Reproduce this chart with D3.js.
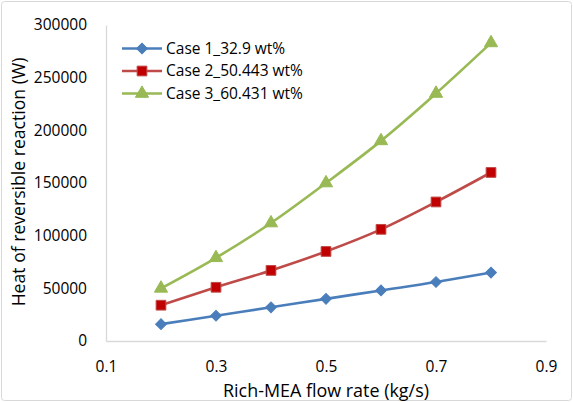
<!DOCTYPE html>
<html>
<head>
<meta charset="UTF-8">
<script src="https://d3js.org/d3.v7.min.js"></script>
<style>
  body { margin: 0; background: #fff; }
  svg text { font-family: 'Open Sans', sans-serif; fill: #000; }
</style>
</head>
<body>
<div id="chart"></div>
<script>
// data
const flowRates = [0.2, 0.3, 0.4, 0.5, 0.6, 0.7, 0.8];
const case1 = [16000, 24000, 32000, 40000, 48000, 56000, 65000];
const case2 = [34000, 51000, 67000, 85000, 106000, 132000, 160000];
const case3 = [50000, 79000, 112000, 150000, 190000, 235000, 283000];
const seriesNames = ['Case 1_32.9 wt%', 'Case 2_50.443 wt%', 'Case 3_60.431 wt%'];
const xTicks = [0.1, 0.3, 0.5, 0.7, 0.9];
const yTicks = [0, 50000, 100000, 150000, 200000, 250000, 300000];

const W = 573, H = 402;
const margin = { left: 106, right: 27, top: 25, bottom: 61 };

const svg = d3.select('#chart').append('svg').attr('width', W).attr('height', H);

// outer frame
svg.append('rect').attr('x', 1.5).attr('y', 1.5).attr('width', W - 3).attr('height', H - 3)
  .attr('rx', 3).attr('fill', '#fff').attr('stroke', '#d9d9d9');

const x = d3.scaleLinear().domain([0.1, 0.9]).range([margin.left, W - margin.right]);
const y = d3.scaleLinear().domain([0, 300000]).range([H - margin.bottom, margin.top]);

// axes
const xAxis = svg.append('g').attr('transform', `translate(0,${y(0)})`)
  .call(d3.axisBottom(x).tickValues(xTicks).tickSize(0).tickPadding(20).tickFormat(d3.format('.1f')));
const yAxis = svg.append('g').attr('transform', `translate(${x(0.1)},0)`)
  .call(d3.axisLeft(y).tickValues(yTicks).tickSize(0).tickPadding(19).tickFormat(d => d));
[xAxis, yAxis].forEach(a => {
  a.select('.domain').attr('stroke', '#d9d9d9').attr('stroke-width', 1.3);
  a.selectAll('text').style('font-size', '15.5px').attr('fill', '#000');
});

// fit a title to the width it has in the reference
function fitText(sel, target) {
  const w = sel.node().getComputedTextLength();
  const fs = parseFloat(sel.style('font-size'));
  sel.style('font-size', (fs * target / w).toFixed(2) + 'px');
}

// axis titles
const xTitle = svg.append('text').attr('x', 326).attr('y', 397)
  .attr('text-anchor', 'middle').style('font-size', '15.5px').text('Rich-MEA flow rate (kg/s)');
fitText(xTitle, 206);
const yTitle = svg.append('text').attr('transform', `translate(25,182) rotate(-90)`)
  .attr('text-anchor', 'middle').style('font-size', '15.5px').text('Heat of reversible reaction (W)');
fitText(yTitle, 249);

// excel style diamond = square turned 45 degrees
const series = [
  { name: seriesNames[0], values: case1, line: '#4a7ebb', fill: '#4a7ebb', stroke: '#4a7ebb', sym: d3.symbolSquare, size: 58, rot: 45 },
  { name: seriesNames[1], values: case2, line: '#be4b48', fill: '#c00000', stroke: '#be4b48', sym: d3.symbolSquare, size: 95, rot: 0 },
  { name: seriesNames[2], values: case3, line: '#98b954', fill: '#98b954', stroke: '#98b954', sym: d3.symbolTriangle, size: 75, rot: 0 }
];

const line = d3.line().x(d => x(d[0])).y(d => y(d[1])).curve(d3.curveMonotoneX);

series.forEach(s => {
  const pts = flowRates.map((f, i) => [f, s.values[i]]);
  svg.append('path').datum(pts).attr('d', line).attr('fill', 'none')
    .attr('stroke', s.line).attr('stroke-width', 2.6);
  svg.selectAll(null).data(pts).enter().append('path')
    .attr('transform', d => `translate(${x(d[0])},${y(d[1])}) rotate(${s.rot})`)
    .attr('d', d3.symbol().type(s.sym).size(s.size))
    .attr('fill', s.fill).attr('stroke', s.stroke).attr('stroke-width', 1);
});

// legend
const legend = svg.append('g');
series.forEach((s, i) => {
  const ly = 48.5 + i * 22.5;
  legend.append('line').attr('x1', 122).attr('x2', 162).attr('y1', ly).attr('y2', ly)
    .attr('stroke', s.line).attr('stroke-width', 2.6);
  legend.append('path').attr('transform', `translate(142,${ly}) rotate(${s.rot})`)
    .attr('d', d3.symbol().type(s.sym).size(s.size))
    .attr('fill', s.fill).attr('stroke', s.stroke).attr('stroke-width', 1);
  legend.append('text').attr('x', 166).attr('y', ly).attr('dy', '0.35em')
    .style('font-size', '15.5px').text(s.name);
});
</script>
</body>
</html>
